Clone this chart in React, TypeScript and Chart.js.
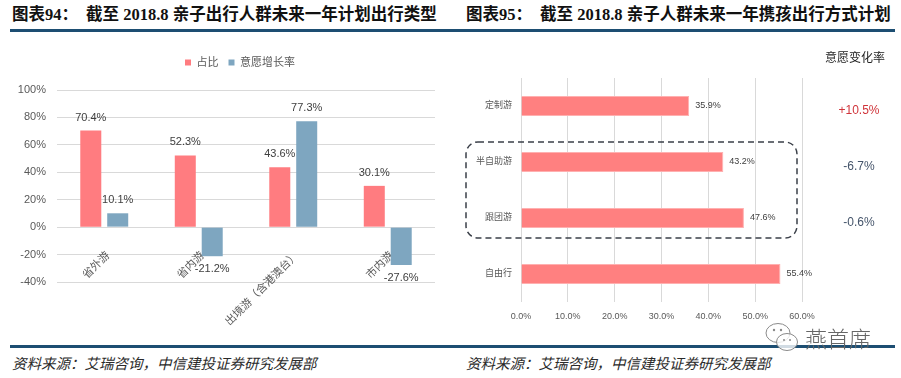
import React, { useEffect, useRef } from "react";
import { Chart, registerables } from "chart.js";

Chart.register(...registerables);

const FONT = '"Liberation Sans", "Noto Sans CJK SC", sans-serif';

// ---- Left chart data (图表94) ----
const typeCategories = ["省外游", "省内游", "出境游（含港澳台）", "市内游"];
const shareSeriesName = "占比";
const shareValues = [70.4, 52.3, 43.6, 30.1];
const growthSeriesName = "意愿增长率";
const growthValues = [10.1, -21.2, 77.3, -27.6];
const leftAxisMin = -40;
const leftAxisMax = 100;
const leftAxisStep = 20;

// ---- Right chart data (图表95) ----
const modeCategories = ["定制游", "半自助游", "跟团游", "自由行"];
const modeShareValues = [35.9, 43.2, 47.6, 55.4];
const changeRateTitle = "意愿变化率";
const changeRateLabels = ["+10.5%", "-6.7%", "-0.6%"];
const highlightedCategories = ["半自助游", "跟团游"];
const rightAxisMin = 0;
const rightAxisMax = 60;
const rightAxisStep = 10;

// ---- Texts ----
const leftTitlePrefix = "图表94：";
const leftTitle = "截至 2018.8 亲子出行人群未来一年计划出行类型";
const rightTitlePrefix = "图表95：";
const rightTitle = "截至 2018.8 亲子人群未来一年携孩出行方式计划";
const sourceText = "资料来源：艾瑞咨询，中信建投证券研究发展部";
const watermarkText = "燕首席";

// styles
const changeRateColors = ["#d0343a", "#44546a", "#44546a"];

function LeftChart() {
  const ref = useRef<HTMLCanvasElement | null>(null);
  useEffect(() => {
    if (!ref.current) return;
    const valueLabels = {
      id: "leftValueLabels",
      afterDatasetsDraw(chart: any) {
        const ctx = chart.ctx;
        ctx.save();
        ctx.font = `11px ${FONT}`;
        ctx.fillStyle = "#404040";
        ctx.textAlign = "center";
        ctx.textBaseline = "middle";
        chart.data.datasets.forEach((ds: any, di: number) => {
          const meta = chart.getDatasetMeta(di);
          meta.data.forEach((el: any, i: number) => {
            const v = ds.data[i] as number;
            const y = v >= 0 ? el.y - 13 : el.y + 13;
            ctx.fillText(v.toFixed(1) + "%", el.x, y);
          });
        });
        ctx.restore();
      },
    };
    const legendGap = {
      id: "legendGap",
      afterInit(chart: any) {
        const legend = chart.legend;
        if (!legend) return;
        const fit = legend.fit;
        legend.fit = function (this: any) {
          fit.call(this);
          this.height += 12;
          if (this.lineWidths && this.lineWidths.length) this.lineWidths[0] += 12;
        };
      },
    };
    const chart = new Chart(ref.current, {
      type: "bar",
      data: {
        labels: typeCategories,
        datasets: [
          {
            label: shareSeriesName,
            data: shareValues,
            backgroundColor: "#ff7c80",
            categoryPercentage: 0.57,
            barPercentage: 0.78,
          },
          {
            label: growthSeriesName,
            data: growthValues,
            backgroundColor: "#7ea6c0",
            categoryPercentage: 0.57,
            barPercentage: 0.78,
          },
        ],
      },
      options: {
        responsive: false,
        animation: false,
        layout: { padding: { top: 47, left: 0, right: 15, bottom: 63 } },
        plugins: {
          legend: {
            position: "top",
            fullSize: false,
            labels: {
              boxWidth: 6,
              boxHeight: 6,
              padding: 10,
              color: "#595959",
              font: { size: 11, family: FONT },
            },
          },
          tooltip: { enabled: false },
        },
        scales: {
          x: {
            type: "category",
            position: { y: 0 } as any,
            grid: { display: false },
            border: { display: false },
            ticks: {
              minRotation: 45,
              maxRotation: 45,
              autoSkip: false,
              padding: 14,
              labelOffset: 4,
              color: "#595959",
              font: { size: 11, family: FONT },
            },
          },
          y: {
            min: leftAxisMin,
            max: leftAxisMax,
            ticks: {
              stepSize: leftAxisStep,
              callback: (v: any) => v + "%",
              padding: 11,
              color: "#595959",
              font: { size: 11, family: FONT },
            },
            grid: { color: "#d9d9d9", drawTicks: false },
            border: { display: false },
            afterFit: (s: any) => {
              s.width = 57;
            },
          },
        },
      } as any,
      plugins: [valueLabels, legendGap],
    });
    return () => chart.destroy();
  }, []);
  return (
    <canvas
      ref={ref}
      width={450}
      height={345}
      style={{ position: "absolute", left: 0, top: 0, width: 450, height: 345 }}
    />
  );
}

function RightChart() {
  const ref = useRef<HTMLCanvasElement | null>(null);
  useEffect(() => {
    if (!ref.current) return;
    const extras = {
      id: "rightExtras",
      afterDatasetsDraw(chart: any) {
        const ctx = chart.ctx;
        const yScale = chart.scales.y;
        const area = chart.chartArea;
        ctx.save();
        // value labels
        ctx.font = `9px ${FONT}`;
        ctx.fillStyle = "#404040";
        ctx.textAlign = "left";
        ctx.textBaseline = "middle";
        const meta = chart.getDatasetMeta(0);
        meta.data.forEach((el: any, i: number) => {
          const v = chart.data.datasets[0].data[i] as number;
          ctx.fillText(v.toFixed(1) + "%", el.x + 6, el.y);
        });
        // dashed highlight box
        const i1 = modeCategories.indexOf(highlightedCategories[0]);
        const i2 = modeCategories.indexOf(highlightedCategories[1]);
        const top = yScale.getPixelForValue(i1) - 20;
        const bottom = yScale.getPixelForValue(i2) + 20;
        const left = 16;
        const right = area.right - 5;
        ctx.setLineDash([6, 4]);
        ctx.lineWidth = 1.5;
        ctx.strokeStyle = "#3a3f48";
        ctx.beginPath();
        (ctx as any).roundRect(left, top, right - left, bottom - top, 12);
        ctx.stroke();
        ctx.setLineDash([]);
        // change rate column
        const colX = area.right + 57;
        ctx.textAlign = "center";
        ctx.fillStyle = "#222";
        ctx.font = `12px ${FONT}`;
        ctx.fillText(changeRateTitle, colX - 4, 19);
        ctx.font = `12px ${FONT}`;
        changeRateLabels.forEach((t, i) => {
          ctx.fillStyle = changeRateColors[i];
          ctx.fillText(t, colX, yScale.getPixelForValue(i) + 5);
        });
        ctx.restore();
      },
    };
    const chart = new Chart(ref.current, {
      type: "bar",
      data: {
        labels: modeCategories,
        datasets: [
          {
            label: "占比",
            data: modeShareValues,
            backgroundColor: "#ff8080",
            borderColor: "#ffb0b0",
            borderWidth: 1,
            categoryPercentage: 1,
            barPercentage: 0.36,
          },
        ],
      },
      options: {
        indexAxis: "y",
        responsive: false,
        animation: false,
        layout: { padding: { top: 38, left: 0, right: 99, bottom: 0 } },
        plugins: { legend: { display: false }, tooltip: { enabled: false } },
        scales: {
          x: {
            min: rightAxisMin,
            max: rightAxisMax,
            ticks: {
              stepSize: rightAxisStep,
              callback: (v: any) => Number(v).toFixed(1) + "%",
              padding: 9,
              color: "#595959",
              font: { size: 9, family: FONT },
            },
            grid: { color: "#d9d9d9", drawTicks: false },
            border: { display: false },
            afterFit: (s: any) => {
              s.height = 38;
            },
          },
          y: {
            type: "category",
            ticks: {
              padding: 9,
              color: "#595959",
              font: { size: 9, family: FONT },
            },
            grid: { display: false, drawTicks: false },
            border: { display: false },
            afterFit: (s: any) => {
              s.width = 71;
            },
          },
        },
      } as any,
      plugins: [extras],
    });
    return () => chart.destroy();
  }, []);
  return (
    <canvas
      ref={ref}
      width={451}
      height={300}
      style={{ position: "absolute", left: 450, top: 40, width: 451, height: 300 }}
    />
  );
}

const titleStyle: React.CSSProperties = {
  position: "absolute",
  top: 5,
  fontFamily: '"Liberation Serif", "Noto Sans CJK SC", serif',
  fontWeight: 700,
  fontSize: 16.5,
  lineHeight: "20px",
  color: "#111",
  whiteSpace: "pre",
};

const sourceStyle: React.CSSProperties = {
  position: "absolute",
  top: 353,
  fontFamily: '"Noto Sans CJK SC", sans-serif',
  fontStyle: "italic",
  fontSize: 14.5,
  lineHeight: "20px",
  color: "#2a2a2a",
  whiteSpace: "pre",
};

export default function App() {
  return (
    <div
      style={{
        position: "fixed",
        left: 0,
        top: 0,
        width: 901,
        height: 378,
        background: "#fff",
        overflow: "hidden",
      }}
    >
      <div style={{ ...titleStyle, left: 12 }}>{leftTitlePrefix}</div>
      <div style={{ ...titleStyle, left: 86 }}>{leftTitle}</div>
      <div style={{ ...titleStyle, left: 466 }}>{rightTitlePrefix}</div>
      <div style={{ ...titleStyle, left: 540 }}>{rightTitle}</div>
      <div style={{ position: "absolute", left: 10, top: 29, width: 885, height: 3, background: "#1d4e72" }} />
      <LeftChart />
      <RightChart />
      <div style={{ position: "absolute", left: 10, top: 345, width: 885, height: 3, background: "#1d4e72" }} />
      <div style={{ ...sourceStyle, left: 12 }}>{sourceText}</div>
      <div style={{ ...sourceStyle, left: 466 }}>{sourceText}</div>
      <svg
        width={36}
        height={32}
        viewBox="0 0 36 32"
        style={{ position: "absolute", left: 764, top: 322 }}
      >
        <ellipse cx={14} cy={11} rx={12} ry={9.5} fill="rgba(255,255,255,0.6)" stroke="#8a8a8a" strokeWidth={1} />
        <ellipse cx={23} cy={20} rx={10.5} ry={8.5} fill="rgba(255,255,255,0.8)" stroke="#8a8a8a" strokeWidth={1} />
        <circle cx={10} cy={8} r={1.2} fill="#8a8a8a" />
        <circle cx={17} cy={8} r={1.2} fill="#8a8a8a" />
        <circle cx={20} cy={18} r={1} fill="#8a8a8a" />
        <circle cx={26} cy={18} r={1} fill="#8a8a8a" />
      </svg>
      <div
        style={{
          position: "absolute",
          left: 805,
          top: 323,
          fontFamily: '"Noto Sans CJK SC", sans-serif',
          fontWeight: 300,
          fontSize: 22,
          lineHeight: "28px",
          color: "#666",
          whiteSpace: "pre",
        }}
      >
        {watermarkText}
      </div>
    </div>
  );
}
